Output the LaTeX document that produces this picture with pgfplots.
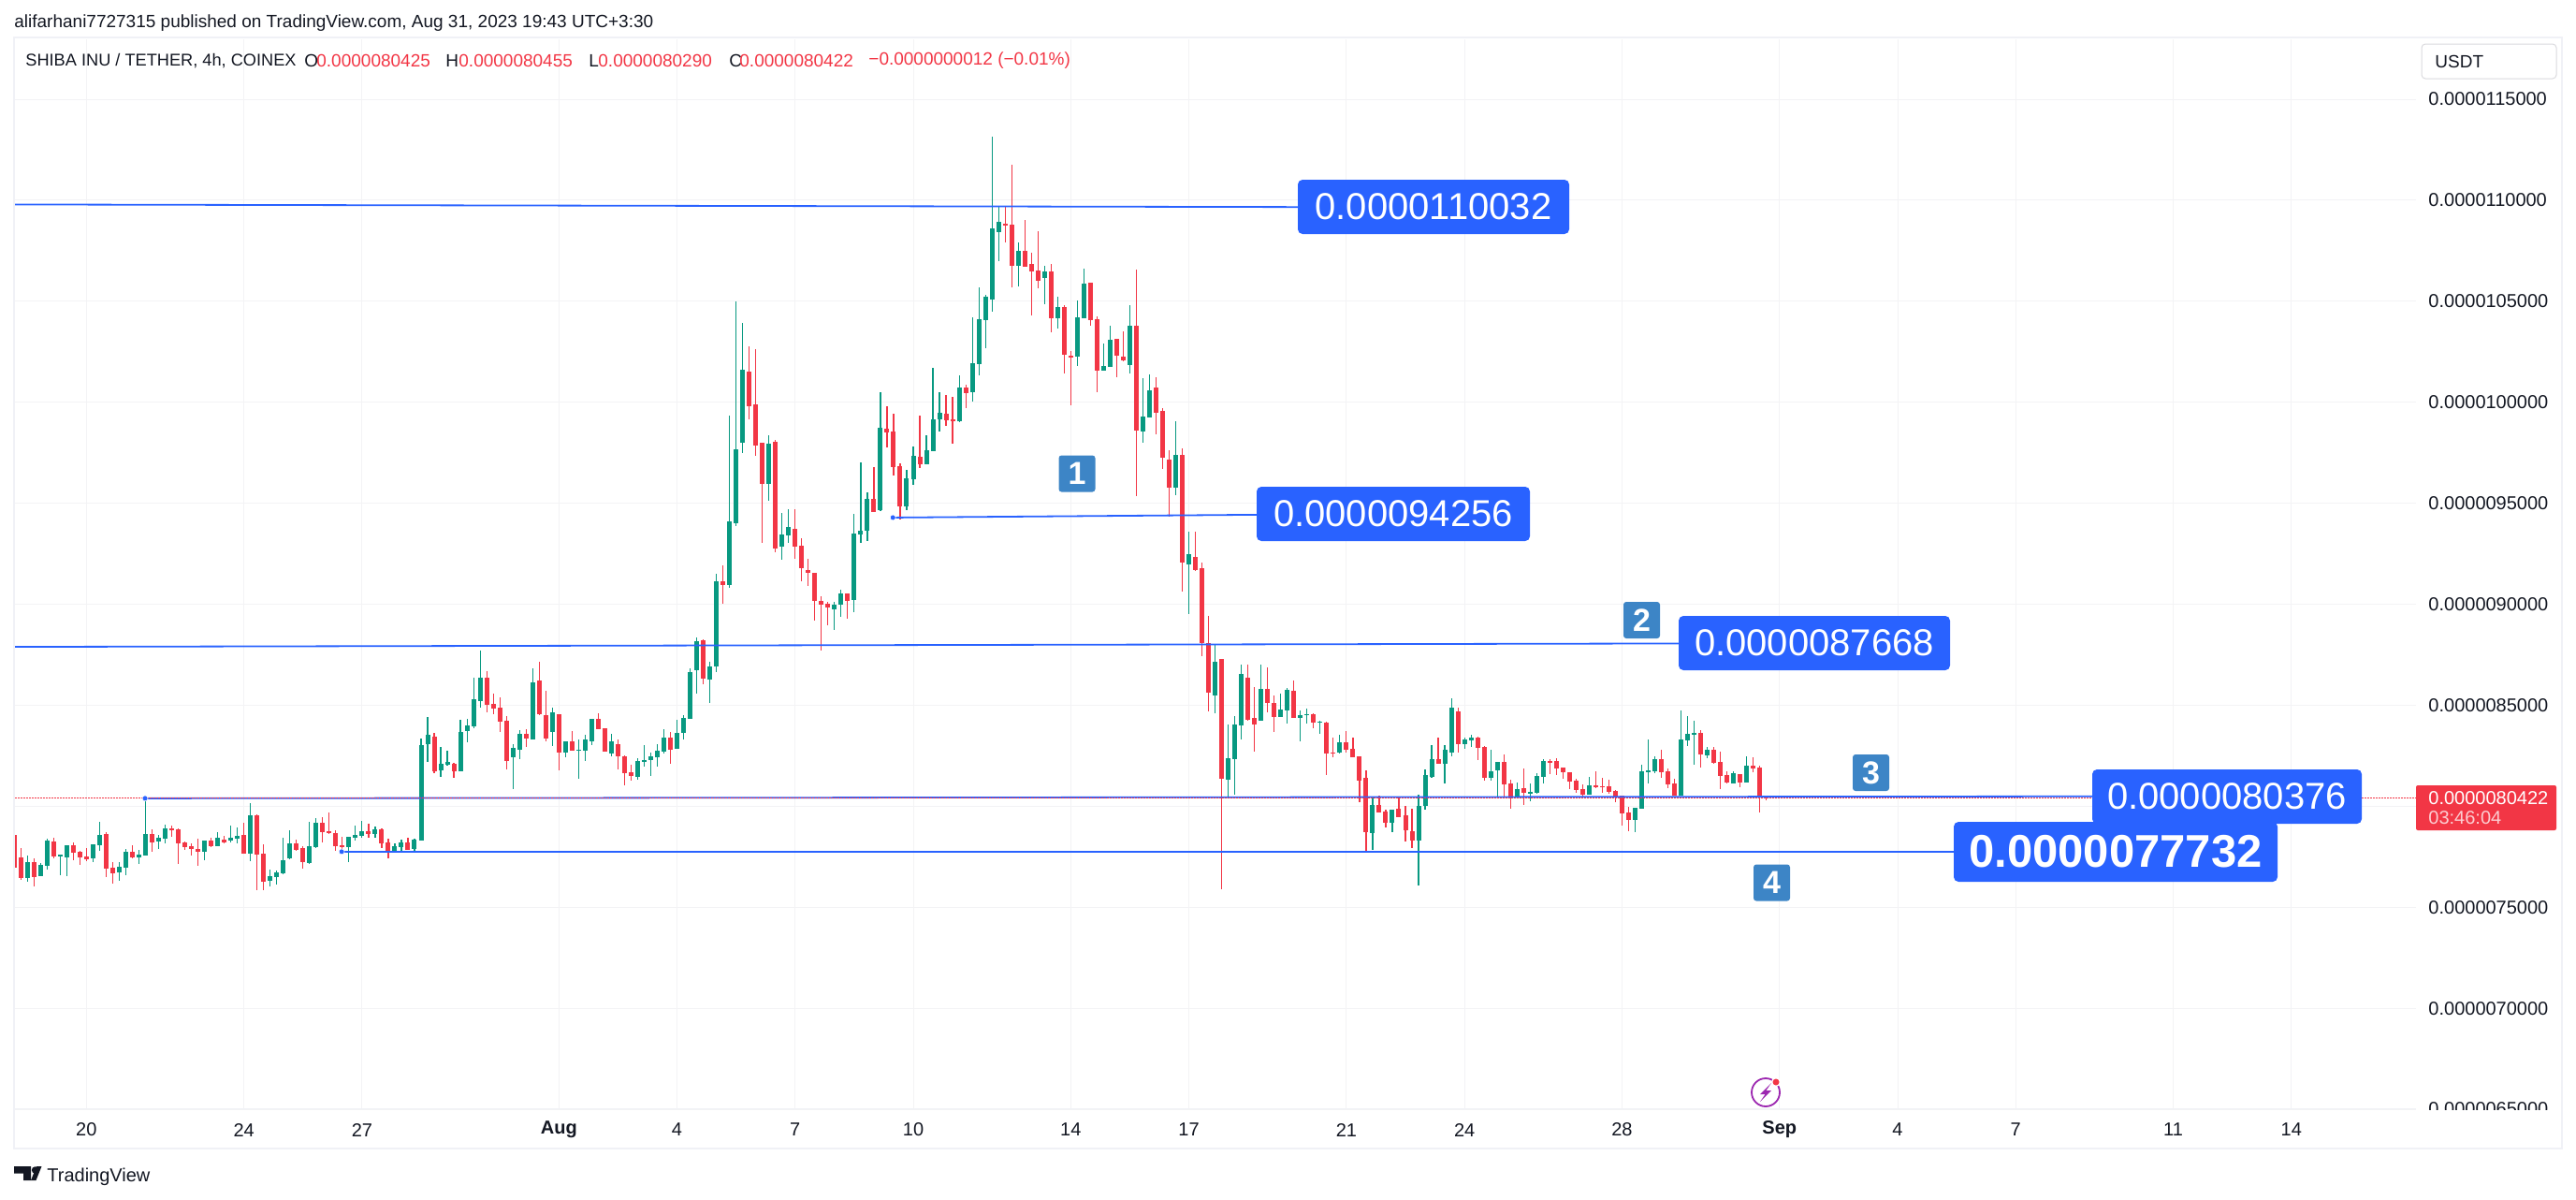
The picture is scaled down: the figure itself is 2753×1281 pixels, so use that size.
\documentclass[border=0pt]{standalone}
\usepackage{pgfplots}
\usepackage{pgfplotstable}
\usepackage{fontspec}
\setmainfont{Liberation Sans}
\pgfplotsset{compat=1.18}
\definecolor{tvgreen}{HTML}{089981}
\definecolor{tvred}{HTML}{F23645}
\definecolor{tvblue}{HTML}{2962FF}
\definecolor{tvtxt}{HTML}{131722}
\definecolor{tvgrid}{HTML}{F3F3F5}
\definecolor{tvframe}{HTML}{F0F1F6}
\definecolor{tvnum}{HTML}{3D85C6}
% Prices in units of 1e-7 USDT; x = 4h candle number; columns: high, body top, body bottom, low
\pgfplotstableread{
x hi top bot lo
1 77.56 77.24 76.45 76.26
3 77.19 77.10 76.54 76.54
4 78.39 78.30 77.05 76.86
6 77.61 77.61 77.51 76.59
7 78.07 78.07 77.47 76.54
11 78.12 78.12 77.42 77.24
12 79.23 78.58 78.07 77.79
15 77.24 77.00 76.73 76.31
16 77.88 77.74 76.96 76.59
18 77.84 77.61 77.47 77.14
19 80.39 78.63 77.56 77.56
21 78.58 78.44 78.25 77.88
22 79.09 78.90 78.39 78.16
28 78.30 78.30 77.74 77.33
30 78.72 78.44 78.02 78.02
32 79.04 78.44 78.30 78.21
33 78.95 78.53 78.39 78.16
35 80.15 79.55 77.65 77.28
38 76.86 76.54 76.31 76.03
39 76.82 76.73 76.49 76.12
40 78.44 77.33 76.68 76.63
41 78.81 78.16 77.42 77.37
44 79.23 78.02 77.19 77.14
45 79.41 79.18 77.98 77.93
50 78.49 78.49 77.98 77.24
51 79.04 78.58 78.44 78.30
52 79.27 78.76 78.53 78.44
54 79.00 78.86 78.63 78.44
57 78.16 78.02 77.74 77.74
58 78.35 78.21 77.98 77.79
60 78.39 78.35 77.88 77.79
61 83.35 83.03 78.30 78.30
62 84.42 83.54 83.07 82.19
64 82.93 82.10 81.78 81.45
65 82.75 82.19 82.05 82.01
67 84.28 83.68 81.73 81.73
68 84.32 84.00 83.72 83.17
69 86.36 85.30 83.95 83.86
70 87.71 86.36 85.21 84.88
75 83.07 82.89 82.43 80.85
76 83.77 83.58 82.80 82.33
78 86.83 86.13 83.31 83.31
81 84.88 84.65 83.68 82.98
83 83.21 83.21 82.66 82.43
85 83.31 82.80 82.75 81.36
86 83.54 83.31 82.75 82.24
87 84.32 84.32 83.21 83.03
90 83.58 83.21 82.61 82.47
94 82.38 82.24 81.45 81.31
95 83.03 82.29 82.19 81.96
96 82.66 82.47 82.29 81.50
97 83.07 82.75 82.43 81.96
98 83.82 83.40 82.70 82.61
100 84.28 83.63 82.84 82.84
101 84.51 84.37 83.63 83.31
102 86.83 86.64 84.32 84.32
103 88.36 88.17 86.73 85.58
105 87.15 86.92 86.27 85.11
106 91.51 91.14 86.92 86.64
108 99.34 94.10 90.95 90.81
109 104.99 97.67 94.01 93.87
110 103.93 101.61 97.99 97.48
114 98.37 97.95 95.96 95.12
116 94.52 93.45 92.85 92.20
117 94.70 93.82 93.41 93.04
124 90.12 89.98 89.75 88.73
125 90.72 90.53 89.98 89.38
127 94.47 93.50 90.21 89.61
128 97.02 93.64 93.45 93.04
129 95.54 95.21 93.64 93.13
131 100.50 98.74 94.66 94.61
135 96.65 96.23 94.84 94.66
136 97.81 97.35 96.19 95.91
138 98.37 97.62 96.93 96.93
139 101.70 99.15 97.58 97.58
140 100.50 99.48 99.15 98.55
143 101.33 100.73 99.06 99.01
145 104.20 101.93 100.50 100.03
146 105.69 104.11 101.89 101.33
147 105.32 105.22 104.06 102.67
148 113.15 108.61 105.08 104.48
149 109.72 108.93 108.42 106.98
152 107.91 107.49 106.75 105.73
156 106.75 106.47 106.15 104.85
158 105.22 104.71 104.16 103.65
161 105.04 104.20 102.26 101.79
162 106.61 105.87 104.16 104.16
165 102.91 101.79 101.56 101.56
166 103.79 103.09 101.75 101.75
169 104.81 103.79 101.84 101.42
171 101.19 99.29 98.55 97.99
172 101.38 100.59 99.25 99.25
176 99.06 97.39 95.77 95.40
178 93.59 92.47 91.98 89.52
182 88.01 87.13 85.48 84.58
184 84.05 82.38 81.31 80.43
185 84.46 84.05 82.33 80.57
186 87.01 86.55 84.00 83.31
189 87.01 85.81 84.23 84.23
192 85.58 84.79 84.42 84.42
193 85.85 85.76 84.74 84.09
195 84.74 84.51 84.37 83.21
196 84.83 84.56 84.51 84.09
198 84.23 84.19 84.14 83.58
201 83.54 83.17 82.66 82.61
206 80.43 80.06 78.67 77.84
209 79.83 79.83 79.18 78.72
213 80.57 80.02 78.30 76.08
214 81.82 81.54 80.02 79.83
215 83.03 82.33 81.45 81.41
217 83.03 82.80 82.10 81.13
218 85.34 84.88 82.66 82.47
220 83.40 83.31 83.07 82.84
221 83.54 83.40 83.26 82.93
224 82.80 81.73 81.41 81.27
225 82.19 82.19 81.78 80.43
228 81.17 80.85 80.48 80.43
230 81.13 80.71 80.66 80.25
231 81.64 81.50 80.66 80.62
232 82.33 82.24 81.45 81.13
239 81.45 81.03 80.57 80.57
246 79.92 79.92 79.32 78.72
247 82.05 81.73 79.88 79.88
248 83.31 81.78 81.68 81.13
249 82.47 82.33 81.73 81.64
253 84.74 83.31 80.53 80.53
254 84.46 83.58 83.26 82.98
255 84.23 83.63 83.54 82.05
257 82.93 82.80 82.52 82.38
261 81.73 81.64 81.13 81.13
263 82.47 82.01 81.17 81.17
}\greentable
\pgfplotstableread{
x hi top bot lo
-1 78.58 78.58 76.97 76.97
0 77.93 77.47 76.45 76.35
2 77.42 77.24 76.49 76.03
5 78.44 78.25 77.51 77.42
8 78.21 78.07 77.70 77.33
9 77.79 77.74 77.47 77.10
10 77.93 77.51 77.37 77.28
13 78.72 78.63 76.91 76.49
14 77.24 76.96 76.68 76.17
17 78.07 77.74 77.47 77.41
20 78.86 78.63 78.21 77.74
23 79.04 78.90 78.81 78.49
24 78.90 78.86 78.16 77.14
25 78.25 78.21 77.98 77.84
26 78.16 78.02 77.88 77.56
27 78.39 77.88 77.74 77.05
29 78.44 78.30 78.02 77.98
31 78.53 78.35 78.21 78.16
34 79.18 78.58 77.65 77.65
36 79.60 79.55 77.61 75.85
37 78.12 77.65 76.26 75.85
42 78.35 78.16 77.84 77.79
43 78.02 77.93 77.24 76.91
46 79.46 79.18 78.72 78.21
47 79.69 78.76 78.67 78.63
48 78.81 78.67 78.02 77.79
49 78.49 78.07 77.98 77.74
53 79.14 78.76 78.63 78.44
55 78.90 78.86 78.16 77.93
56 78.39 78.21 77.74 77.42
59 78.44 78.21 77.84 77.84
63 83.63 83.44 81.73 81.64
66 82.15 82.10 81.73 81.41
71 86.69 86.36 85.02 84.65
72 85.58 85.07 84.83 84.56
73 85.39 84.88 84.19 83.68
74 84.46 84.23 82.24 81.82
77 83.82 83.58 83.35 82.93
79 87.15 86.22 84.56 84.51
80 85.71 84.51 83.35 83.21
82 84.56 84.56 82.66 81.78
84 83.72 83.21 82.75 82.75
88 84.60 84.32 83.82 83.82
89 83.86 83.86 82.70 82.70
91 83.31 83.07 82.47 81.82
92 82.52 82.47 81.64 81.03
93 82.05 81.68 81.50 81.27
99 83.68 83.40 82.80 82.10
104 88.26 88.22 86.32 86.04
107 91.92 91.14 90.95 90.02
111 102.77 101.52 99.80 99.15
112 102.63 99.89 97.86 97.35
113 97.99 97.99 95.96 93.04
115 98.13 98.04 92.76 92.57
118 94.70 93.73 92.85 92.25
119 93.27 92.90 91.79 91.14
120 92.25 91.69 91.55 90.90
121 91.55 91.55 90.16 89.19
122 90.40 90.16 89.98 87.71
123 90.12 90.02 89.84 88.96
126 90.53 90.53 90.16 89.28
130 96.79 95.21 94.57 94.57
132 99.80 98.69 98.50 97.76
133 99.43 98.55 96.79 96.37
134 96.97 96.84 94.84 94.19
137 99.34 97.30 96.93 96.74
141 100.36 99.43 99.11 98.83
142 100.27 99.15 99.06 97.95
144 100.87 100.73 100.45 99.71
150 109.72 108.84 108.75 107.91
151 111.76 108.79 106.75 105.69
153 109.02 107.49 106.71 106.71
154 107.40 106.85 106.47 104.30
155 108.47 106.52 106.01 105.64
157 106.85 106.47 104.16 103.46
159 104.81 104.71 102.35 101.42
160 102.54 102.30 102.26 99.85
163 105.92 105.92 104.06 103.79
164 104.25 104.11 101.56 100.50
167 103.14 103.14 102.30 101.24
168 103.51 102.26 102.07 102.03
170 106.57 103.79 98.60 95.35
173 101.24 100.73 99.48 98.41
174 99.71 99.57 97.25 96.70
175 97.62 97.16 95.77 94.34
177 97.72 97.39 92.07 90.64
179 93.59 92.32 91.70 91.63
180 92.05 91.77 88.07 87.41
181 89.41 88.07 85.63 84.68
183 87.28 87.28 81.36 75.89
187 87.01 86.36 84.28 84.23
188 85.90 84.37 84.05 82.70
190 86.87 85.81 85.11 84.65
191 85.48 85.11 84.42 83.68
194 86.22 85.71 84.37 84.37
197 84.60 84.56 84.14 83.86
199 84.19 84.14 82.61 81.54
200 83.40 82.66 82.61 82.43
202 83.72 83.17 82.80 82.66
203 83.40 82.84 82.43 82.43
204 82.47 82.47 81.27 80.20
205 81.78 81.41 78.72 77.70
207 80.53 80.06 79.69 79.69
208 79.83 79.74 79.18 78.95
210 80.43 79.88 79.46 79.46
211 80.02 79.55 78.81 78.25
212 79.88 78.76 78.30 77.93
216 83.40 82.33 82.10 82.10
219 84.88 84.70 83.07 82.66
222 83.44 83.40 82.89 82.29
223 82.98 82.93 81.41 81.27
226 82.56 82.19 81.08 80.43
227 81.31 81.13 80.48 79.88
229 81.87 80.90 80.66 80.06
233 82.33 82.24 82.19 81.59
234 82.38 82.24 81.87 81.54
235 81.92 81.92 81.68 81.36
236 81.68 81.68 81.22 80.85
237 81.36 81.27 80.80 80.66
238 81.08 80.85 80.57 80.43
240 81.73 81.03 80.94 80.90
241 81.41 80.99 80.94 80.66
242 81.31 80.99 80.71 80.62
243 80.80 80.76 80.48 80.20
244 80.53 80.53 79.64 79.04
245 79.97 79.69 79.32 78.76
250 82.80 82.33 81.68 81.41
251 81.87 81.73 81.08 80.90
252 81.36 81.13 80.53 80.53
256 83.77 83.63 82.56 81.92
258 82.93 82.80 82.15 82.10
259 82.70 82.19 81.50 80.85
260 81.73 81.54 81.17 81.13
262 81.59 81.59 81.17 80.94
264 82.43 82.01 81.87 81.68
265 82.01 81.92 80.43 79.69
266 80.455 80.45 80.40 80.29
}\redtable
\newcommand{\wicks}[2]{\addplot[draw=none,mark=none,forget plot,error bars/.cd,y dir=both,y explicit,error mark=none,error bar style={draw=#2,solid,line width=0.6pt}] table[x=x,y expr=(\thisrow{hi}+\thisrow{lo})/2,y error expr=(\thisrow{hi}-\thisrow{lo})/2] {#1};}
\newcommand{\bodies}[2]{\addplot[draw=none,mark=none,forget plot,error bars/.cd,y dir=both,y explicit,error mark=none,error bar style={draw=#2,solid,line width=2.5pt}] table[x=x,y expr=(\thisrow{top}+\thisrow{bot})/2,y error expr=(\thisrow{top}-\thisrow{bot})/2] {#1};}
\tikzset{lbl/.style={fill=tvblue,text=white,rounded corners=2.5pt,inner sep=0pt,font=\fontsize{20}{24}\selectfont},
 num/.style={fill=tvnum,text=white,rounded corners=1.5pt,minimum width=19.5pt,minimum height=19.5pt,inner sep=0pt,font=\bfseries\fontsize{17}{20}\selectfont},
 txt/.style={anchor=west,inner sep=0pt,text=tvtxt,font=\fontsize{9.5}{12}\selectfont},
 redt/.style={anchor=west,inner sep=0pt,text=tvred,font=\fontsize{9.5}{12}\selectfont}}
\begin{document}
\begin{tikzpicture}[x=0.5pt,y=-0.5pt]
\path[use as bounding box] (0,0) rectangle (2753,1281);
\begin{axis}[at={(8pt,-592.5pt)},anchor=south west,scale only axis,width=1283pt,height=571.5pt,
  xmin=-0.884,xmax=365,ymin=65,ymax=117.966,
  axis line style={draw=none},tick style={draw=none},
  grid=major,grid style={draw=tvgrid,line width=0.5pt},
  xtick={10,34,52,82,100,118,136,160,178,202,220,244,268,286,304,328,346},
  xticklabels={20,24,27,\textbf{Aug},4,7,10,14,17,21,24,28,\textbf{Sep},4,7,11,14},
  xticklabel style={anchor=center,inner sep=0pt,yshift=-11pt,text=tvtxt,font=\fontsize{10}{12}\selectfont},
  ytick={65,70,75,80,85,90,95,100,105,110,115},
  yticklabels={0.0000065000,0.0000070000,0.0000075000,0.0000080000,0.0000085000,0.0000090000,0.0000095000,0.0000100000,0.0000105000,0.0000110000,0.0000115000},
  yticklabel pos=right,
  yticklabel style={anchor=west,inner sep=0pt,xshift=6.5pt,text=tvtxt,font=\fontsize{10}{12}\selectfont},
]
\wicks{\greentable}{tvgreen}
\bodies{\greentable}{tvgreen}
\wicks{\redtable}{tvred}
\bodies{\redtable}{tvred}
\addplot[tvblue,line width=0.9pt,forget plot] coordinates {(-0.884,109.79) (200,109.66)};
\addplot[tvblue,line width=0.9pt,forget plot] coordinates {(132.9,94.29) (192,94.44)};
\addplot[tvblue,line width=0.9pt,forget plot] coordinates {(-0.884,87.89) (258,88.06)};
\addplot[tvblue,line width=0.9pt,forget plot] coordinates {(18.94,80.39) (320,80.49)};
\addplot[tvblue,line width=1pt,forget plot] coordinates {(48.9,77.75) (300,77.75)};
\addplot[only marks,mark=*,mark size=1.5pt,mark options={fill=tvblue,draw=white,line width=0.3pt},forget plot] coordinates {(132.9,94.29) (18.94,80.39) (48.9,77.75)};
\addplot[tvred,line width=0.5pt,dash pattern=on 0.75pt off 0.75pt,forget plot] coordinates {(-0.884,80.42) (365,80.42)};
\end{axis}
% frame
\draw[tvframe,line width=1pt] (15,40) rectangle (2738,1227);
\draw[tvframe,line width=0.5pt] (15,1184.5) -- (2582,1184.5);
\fill[white] (2584,1186) rectangle (2736,1226);
% header
\node[txt] at (15,25) {alifarhani7727315 published on TradingView.com, Aug 31, 2023 19:43 UTC+3:30};
\node[txt,font=\fontsize{9.1}{12}\selectfont] at (27,65) {SHIBA INU / TETHER, 4h, COINEX};
\node[txt] at (325,65) {O};\node[redt] at (338,65) {0.0000080425};
\node[txt] at (476,65) {H};\node[redt] at (490,65) {0.0000080455};
\node[txt] at (629,65) {L};\node[redt] at (639,65) {0.0000080290};
\node[txt] at (779,65) {C};\node[redt] at (790,65) {0.0000080422};
\node[redt] at (928,65) {−0.0000000012 (−0.01\%)};
\draw[tvframe!80!gray,line width=0.5pt,rounded corners=2pt,fill=white] (2588,47) rectangle (2732,84);
\node[txt] at (2602,65.5) {USDT};
% price tag
\fill[tvred,rounded corners=1pt] (2582,839) rectangle (2732,887);
\node[anchor=west,inner sep=0pt,text=white,font=\fontsize{10}{12}\selectfont] at (2595,853) {0.0000080422};
\node[anchor=west,inner sep=0pt,text=white!75!tvred,font=\fontsize{10}{12}\selectfont] at (2595,874) {03:46:04};
% level labels
\node[lbl,minimum width=145pt,minimum height=29pt] at (1532,221) {0.0000110032};
\node[lbl,minimum width=146pt,minimum height=29pt] at (1489,549) {0.0000094256};
\node[lbl,minimum width=145pt,minimum height=29pt] at (1939,687) {0.0000087668};
\node[lbl,minimum width=144pt,minimum height=29pt] at (2380,851) {0.0000080376};
\node[lbl,minimum width=173pt,minimum height=32pt,font=\bfseries\fontsize{24.5}{28}\selectfont] at (2261,910) {0.0000077732};
\node[num] at (1151,506) {1};
\node[num] at (1754.5,662.5) {2};
\node[num] at (1999.5,825.5) {3};
\node[num] at (1893.5,943) {4};
% lightning icon
\definecolor{tvpurple}{HTML}{9C27B0}
\draw[tvpurple,line width=0.9pt] (1887,1167) circle (15);
\fill[tvpurple] (1893,1157) -- (1881,1169) -- (1886.5,1169) -- (1881,1177) -- (1893,1165) -- (1887.5,1165) -- cycle;
\fill[white] (1898,1156) circle (5);
\fill[tvred] (1898,1156) circle (3.5);
% logo
\fill[tvtxt] (15,1246) -- (33,1246) -- (33,1261) -- (25,1261) -- (25,1253.5) -- (15,1253.5) -- cycle;
\fill[tvtxt] (37.5,1250) circle (3.7);
\fill[tvtxt] (33,1261) -- (39,1246) -- (44.5,1246) -- (38.5,1261) -- cycle;
\node[txt,font=\fontsize{10}{12}\selectfont] at (50,1257) {TradingView};
\end{tikzpicture}
\end{document}
